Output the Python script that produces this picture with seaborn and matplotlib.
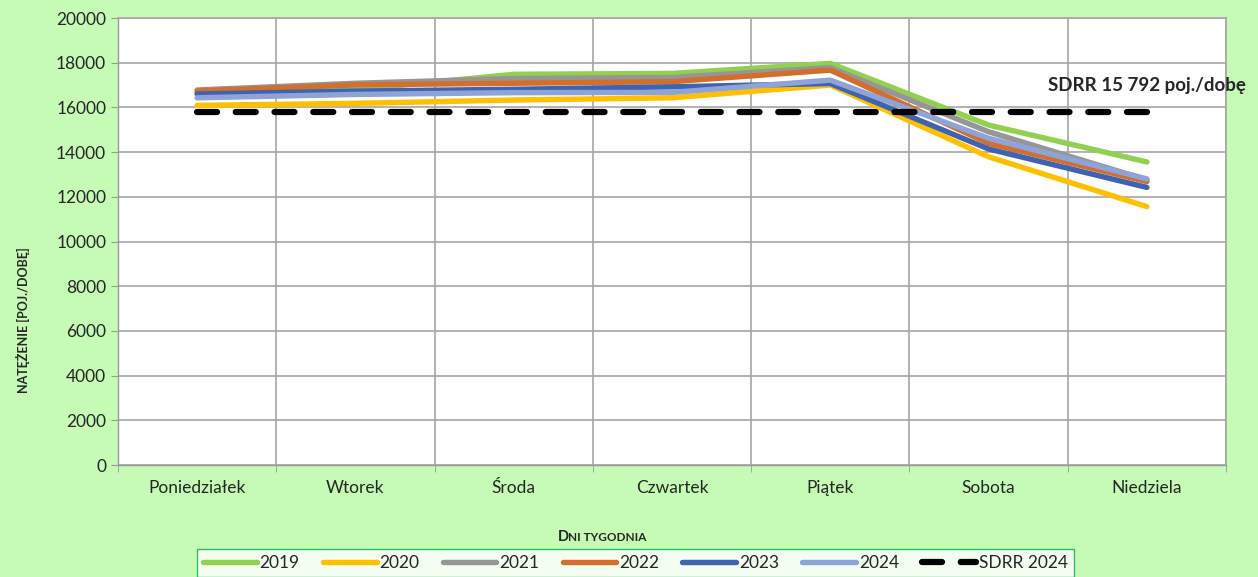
import pandas as pd
import matplotlib.pyplot as plt
import seaborn as sns
from matplotlib.ticker import MultipleLocator, FixedLocator

# Data
days = ['Poniedziałek', 'Wtorek', 'Środa', 'Czwartek', 'Piątek', 'Sobota', 'Niedziela']
years = ['2019', '2020', '2021', '2022', '2023', '2024']
v2019 = [16650, 16800, 17480, 17520, 17970, 15210, 13560]
v2020 = [16090, 16180, 16330, 16430, 17000, 13790, 11560]
v2021 = [16780, 17080, 17290, 17340, 17780, 14910, 12760]
v2022 = [16730, 17010, 17080, 17150, 17670, 14390, 12680]
v2023 = [16600, 16730, 16810, 16920, 17070, 14140, 12420]
v2024 = [16430, 16580, 16660, 16670, 17220, 14620, 12800]
sdrr = 15792

colors = ['#92D050', '#FFC000', '#969696', '#D36E2C', '#3F63AE', '#8EA4D8']

series = [v2019, v2020, v2021, v2022, v2023, v2024]
df = pd.DataFrame({
    'day': days * len(years),
    'year': [y for y in years for _ in days],
    'value': [v for s in series for v in s],
})

sns.set_style('white')
plt.rcParams['font.family'] = ['Lato', 'DejaVu Sans']

fig = plt.figure(figsize=(12.58, 5.77), dpi=100, facecolor='#C6FBB6')
ax = fig.add_axes([0.0938, 0.1941, 0.8808, 0.7747])
ax.set_facecolor('white')

sns.lineplot(data=df, x='day', y='value', hue='year', palette=colors,
             sort=False, linewidth=3.9, ax=ax, legend=False,
             solid_capstyle='round')

ax.plot(days, [sdrr] * len(days), color='black', linewidth=4.5,
        linestyle=(0, (3.2, 3.0)), dash_capstyle='round', label='SDRR 2024')

ax.set_xlim(-0.5, len(days) - 0.5)
ax.set_ylim(0, 20000)
ax.yaxis.set_major_locator(MultipleLocator(2000))
ax.xaxis.set_minor_locator(FixedLocator([i - 0.5 for i in range(len(days) + 1)]))

ax.grid(axis='y', color='#A6A6A6', linewidth=1.2)
ax.grid(axis='x', which='minor', color='#A6A6A6', linewidth=1.2)
ax.set_axisbelow(True)

for side in ['top', 'right']:
    ax.spines[side].set_color('#A6A6A6')
    ax.spines[side].set_linewidth(1.2)
for side in ['left', 'bottom']:
    ax.spines[side].set_color('#999999')
    ax.spines[side].set_linewidth(1.0)

ax.tick_params(axis='x', which='major', length=0, pad=11, labelsize=12.5)
ax.tick_params(axis='x', which='minor', length=5, color='#999999', bottom=True)
ax.tick_params(axis='y', length=5, color='#999999', left=True, labelsize=12.5)

ax.set_xlabel('')
ax.set_ylabel('')
# small-caps style axis titles
fig.text(0.013, 0.445, 'NATĘŻENIE [POJ./DOBĘ]', fontsize=9, fontweight='bold',
         rotation=90, ha='left', va='center')
fig.text(0.4435, 0.0695, 'D', fontsize=10.5, fontweight='bold', ha='left', va='center')
fig.text(0.4512, 0.068, 'NI TYGODNIA', fontsize=8.5, fontweight='bold', ha='left', va='center')

ax.text(1.018, sdrr + 800, 'SDRR 15 792 poj./dobę', transform=ax.get_yaxis_transform(),
        ha='right', va='bottom', fontsize=13.5, fontweight='bold')

handles = [plt.Line2D([], [], color=c, linewidth=3.9, solid_capstyle='round') for c in colors]
handles.append(plt.Line2D([], [], color='black', linewidth=4.5,
                          linestyle=(0, (3.2, 3.0)), dash_capstyle='round'))
leg = fig.legend(handles, years + ['SDRR 2024'], loc='upper center',
                 bbox_to_anchor=(0.505, 0.064), ncol=7, frameon=True, fancybox=False,
                 edgecolor='#00B050', fontsize=12.5, handlelength=3.1,
                 handletextpad=0.15, columnspacing=1.35, borderpad=0.35)
leg.get_frame().set_linewidth(1.0)

fig.savefig('out.png', dpi=100, facecolor=fig.get_facecolor())
